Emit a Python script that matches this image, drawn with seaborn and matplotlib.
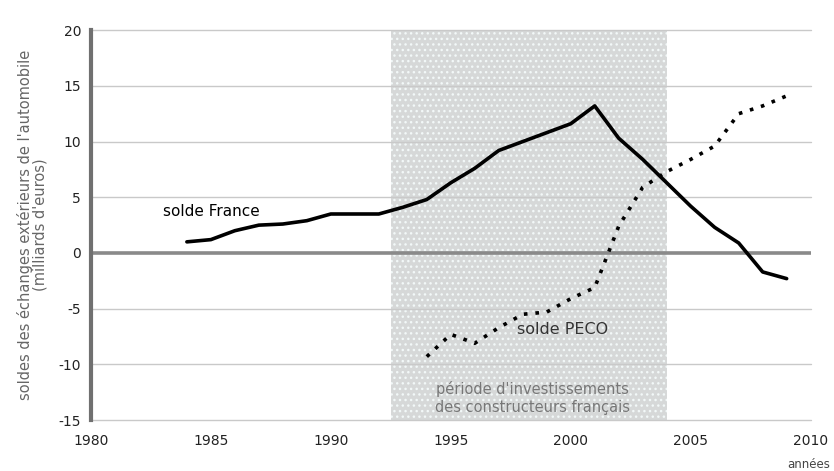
import matplotlib
matplotlib.use("Agg")
import matplotlib.pyplot as plt
import numpy as np
import pandas as pd
import seaborn as sns

# Valeurs (milliards d'euros)
annees_france = [1984, 1985, 1986, 1987, 1988, 1989, 1990, 1991, 1992, 1993,
                 1994, 1995, 1996, 1997, 1998, 1999, 2000, 2001, 2002, 2003,
                 2004, 2005, 2006, 2007, 2008, 2009]
solde_france = [1.0, 1.2, 2.0, 2.5, 2.6, 2.9, 3.5, 3.5, 3.5, 4.1,
                4.8, 6.3, 7.6, 9.2, 10.0, 10.8, 11.6, 13.2, 10.3, 8.4,
                6.3, 4.2, 2.3, 0.9, -1.7, -2.3]

annees_peco = [1994, 1995, 1996, 1997, 1998, 1999, 2000, 2001, 2002, 2003,
               2004, 2005, 2006, 2007, 2008, 2009]
solde_peco = [-9.3, -7.3, -8.1, -6.7, -5.5, -5.3, -4.1, -3.1, 2.4, 5.9,
              7.3, 8.4, 9.6, 12.5, 13.2, 14.1]

x_ticks = [1980, 1985, 1990, 1995, 2000, 2005, 2010]
y_ticks = [-15, -10, -5, 0, 5, 10, 15, 20]
periode = (1992.5, 2004.0)

sns.set_style("white")
plt.rcParams["font.family"] = ["DejaVu Sans"]
plt.rcParams["axes.unicode_minus"] = False

fig = plt.figure(figsize=(8.34, 4.71), dpi=100)
ax = fig.add_axes([0.109, 0.108, 0.863, 0.828])

# zone grisee : periode d'investissements
ax.axvspan(*periode, facecolor="#d6d8d8", edgecolor="#f2f8f8",
           hatch="...", linewidth=0, zorder=0)

# grille horizontale
for v in y_ticks:
    if v == 0:
        continue
    ax.axhline(v, color="#c9c9c9", lw=1.0, zorder=1, clip_on=False)
ax.axhline(0, color="#8a8a8a", lw=2.6, zorder=2)

df_fr = pd.DataFrame({"annee": annees_france, "solde": solde_france})
df_pe = pd.DataFrame({"annee": annees_peco, "solde": solde_peco})

sns.lineplot(data=df_fr, x="annee", y="solde", ax=ax, color="black",
             lw=2.6, zorder=4)
sns.lineplot(data=df_pe, x="annee", y="solde", ax=ax, color="black",
             lw=2.6, linestyle=(0, (1, 2.2)), zorder=4)

ax.set_xlim(1980, 2010)
ax.set_ylim(-15, 20)
ax.set_xticks(x_ticks)
ax.set_yticks(y_ticks)
ax.set_xlabel("")
ax.set_ylabel("soldes des échanges extérieurs de l'automobile\n(milliards d'euros)",
              fontsize=10.5, color="#666666", labelpad=8, linespacing=1.0)

for s in ["top", "right", "bottom"]:
    ax.spines[s].set_visible(False)
ax.spines["left"].set_color("#707070")
ax.spines["left"].set_linewidth(3)
ax.spines["left"].set_zorder(5)

ax.tick_params(axis="y", length=5, width=1.5, color="black",
               labelsize=10, labelcolor="#222222", pad=2)
ax.tick_params(axis="x", length=7, width=1.5, color="black",
               labelsize=10, labelcolor="#222222", pad=3)

ax.text(1983.0, 3.75, "solde France", fontsize=11, color="black",
        va="center", ha="left", zorder=6)
ax.text(1997.75, -6.9, "solde PECO", fontsize=11.5, color="#333333",
        va="center", ha="left", zorder=6)
ax.text(1998.4, -13.0, "période d'investissements\ndes constructeurs français",
        fontsize=10.5, color="#777777", ha="center", va="center",
        linespacing=1.2, zorder=6)

fig.text(0.995, 0.0, "années", fontsize=8.5, color="#444444",
         ha="right", va="bottom")

fig.savefig("out.png", dpi=100)
